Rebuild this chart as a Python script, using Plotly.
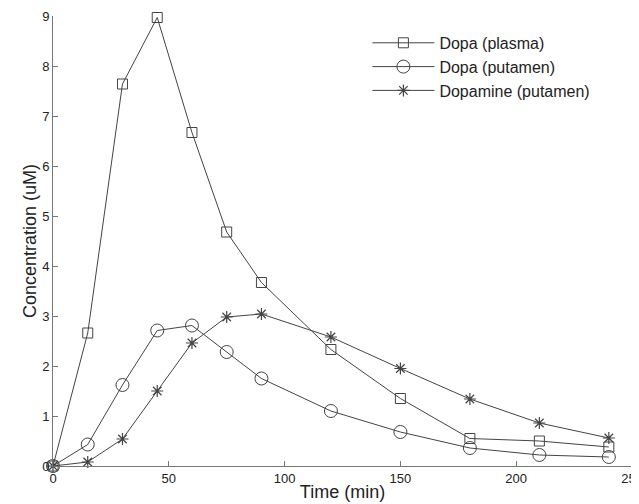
import plotly.graph_objects as go

time_min = [0, 15, 30, 45, 60, 75, 90, 120, 150, 180, 210, 240]
dopa_plasma = [0, 2.66, 7.64, 8.97, 6.67, 4.68, 3.67, 2.33, 1.35, 0.55, 0.50, 0.38]
dopa_putamen = [0, 0.43, 1.62, 2.71, 2.81, 2.28, 1.75, 1.10, 0.68, 0.36, 0.22, 0.18]
dopamine_putamen = [0, 0.08, 0.54, 1.50, 2.46, 2.98, 3.04, 2.58, 1.95, 1.34, 0.86, 0.56]

x_ticks = [0, 50, 100, 150, 200, 250]
y_ticks = [0, 1, 2, 3, 4, 5, 6, 7, 8, 9]

font_family = "Liberation Sans, Arial, sans-serif"
line_col = "#444444"

fig = go.Figure()
fig.add_trace(go.Scatter(
    x=time_min, y=dopa_plasma, name="Dopa (plasma)", mode="lines+markers",
    line=dict(color=line_col, width=1),
    marker=dict(symbol="square-open", size=10, color=line_col, line=dict(width=1)),
    cliponaxis=False))
fig.add_trace(go.Scatter(
    x=time_min, y=dopa_putamen, name="Dopa (putamen)", mode="lines+markers",
    line=dict(color=line_col, width=1),
    marker=dict(symbol="circle-open", size=13, color=line_col, line=dict(width=1)),
    cliponaxis=False))
fig.add_trace(go.Scatter(
    x=time_min, y=dopamine_putamen, name="Dopamine (putamen)", mode="lines+markers",
    line=dict(color=line_col, width=1),
    marker=dict(symbol="asterisk-open", size=10, color=line_col, line=dict(width=1.2)),
    cliponaxis=False))

# The page body adds an 8px margin, so the figure is sized to the remaining window.
fig.update_layout(
    width=631, height=496,
    margin=dict(l=45, r=7, t=8, b=38),
    paper_bgcolor="white", plot_bgcolor="white",
    font=dict(family=font_family, color="#222222"),
    showlegend=True,
    legend=dict(x=0.543, y=0.978, xanchor="left", yanchor="top",
                font=dict(size=16, family=font_family, color="#222222"),
                bgcolor="rgba(0,0,0,0)", tracegroupgap=0, itemwidth=62),
    xaxis=dict(range=[0, 250], tickvals=x_ticks, showline=True, linecolor="#777777",
               linewidth=1, ticks="inside", ticklen=5, tickcolor="#777777",
               showgrid=False, zeroline=False, tickfont=dict(size=13),
               automargin=False, ticklabeloverflow="allow",
               title=dict(text="Time (min)", font=dict(size=18), standoff=0)),
    yaxis=dict(range=[0, 9], tickvals=y_ticks, showline=True, linecolor="#777777",
               linewidth=1, ticks="inside", ticklen=5, tickcolor="#777777",
               showgrid=False, zeroline=False, tickfont=dict(size=13),
               automargin=False, ticklabeloverflow="allow",
               title=dict(text="Concentration (uM)", font=dict(size=18), standoff=0)),
)

fig.write_html("out.html")
